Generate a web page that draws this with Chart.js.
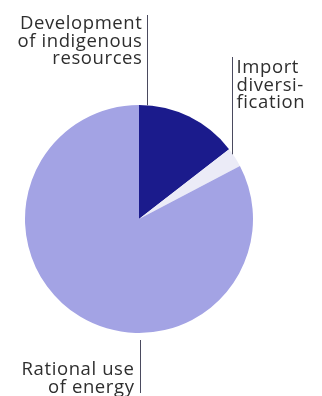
<!DOCTYPE html>
<html>
<head>
<meta charset="utf-8">
<script src="https://cdn.jsdelivr.net/npm/chart.js@4/dist/chart.umd.min.js"></script>
<style>
  html, body { margin: 0; padding: 0; background: #fff; }
  #wrap { width: 322px; height: 396px; position: relative; }
</style>
</head>
<body>
<div id="wrap"><canvas id="pie"></canvas></div>
<script>
// Shares of the energy strategy
const categories = ['Development of indigenous resources', 'Import diversification', 'Rational use of energy'];
const shares = [14.5, 2.8, 82.7];
const sliceColors = ['#1b1b8c', '#ebebf7', '#a3a3e4'];

// Text lines for each callout
const labelLines = [
  ['Development', 'of indigenous', 'resources'],
  ['Import', 'diversi-', 'fication'],
  ['Rational use', 'of energy']
];

const FONT = '18.5px "Open Sans", sans-serif';
const LINE_H = 17.5;

// Callouts with vertical leader lines
const calloutPlugin = {
  id: 'callouts',
  afterDraw(chart) {
    const ctx = chart.ctx;
    const arcs = chart.getDatasetMeta(0).data;
    const cx = arcs[0].x, cy = arcs[0].y, r = arcs[0].outerRadius;

    ctx.save();
    ctx.strokeStyle = '#4a4a5e';
    ctx.lineWidth = 1;
    ctx.fillStyle = '#2e2e2e';
    ctx.font = FONT;
    ctx.letterSpacing = '0.6px';
    ctx.textBaseline = 'alphabetic';

    // development: line touching the top of the pie, text to its left
    let lx = cx + 8.5;
    let ly = cy - Math.sqrt(r * r - 8 * 8);
    ctx.beginPath();
    ctx.moveTo(lx, 15);
    ctx.lineTo(lx, ly);
    ctx.stroke();
    ctx.textAlign = 'right';
    labelLines[0].forEach((t, i) => ctx.fillText(t, lx - 5, 29 + i * LINE_H));

    // import: line down to the middle of the thin slice, text to its right
    const a = arcs[1];
    const mid = (a.startAngle + a.endAngle) / 2;
    const ix = Math.round(cx + r * Math.cos(mid)) - 2.5;
    const iy = cy + r * Math.sin(mid) - 3;
    ctx.beginPath();
    ctx.moveTo(ix, 57);
    ctx.lineTo(ix, iy);
    ctx.stroke();
    ctx.textAlign = 'left';
    labelLines[1].forEach((t, i) => ctx.fillText(t, ix + 4, 73 + i * LINE_H));

    // rational use: line below the pie, text to its left
    const rx = cx + 1.5;
    ctx.beginPath();
    ctx.moveTo(rx, cy + r + 7);
    ctx.lineTo(rx, 393);
    ctx.stroke();
    ctx.textAlign = 'right';
    labelLines[2].forEach((t, i) => ctx.fillText(t, rx - 6, 375 + i * LINE_H));

    ctx.restore();
  }
};

new Chart(document.getElementById('pie'), {
  type: 'pie',
  data: {
    labels: categories,
    datasets: [{
      data: shares,
      backgroundColor: sliceColors,
      borderWidth: 0
    }]
  },
  options: {
    responsive: true,
    maintainAspectRatio: false,
    animation: false,
    layout: { padding: { left: 25, right: 69, top: 105, bottom: 63 } },
    plugins: {
      legend: { display: false },
      tooltip: { enabled: false }
    }
  },
  plugins: [calloutPlugin]
});
</script>
</body>
</html>
